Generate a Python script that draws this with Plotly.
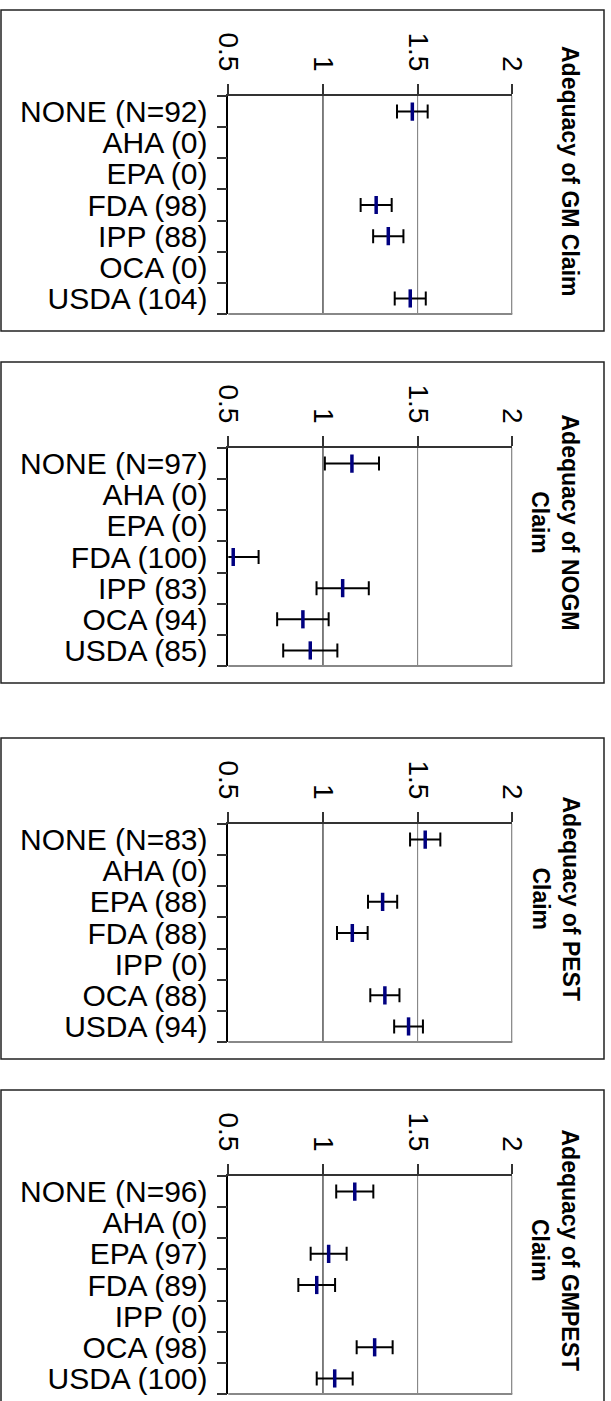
import plotly.graph_objects as go

W, H = 611, 1401

agencies = ["NONE", "AHA", "EPA", "FDA", "IPP", "OCA", "USDA"]
titles = ["Adequacy of GM Claim", "Adequacy of NOGM<br>Claim",
          "Adequacy of PEST<br>Claim", "Adequacy of GMPEST<br>Claim"]

n_gm = [92, 0, 0, 98, 88, 0, 104]
n_nogm = [97, 0, 0, 100, 83, 94, 85]
n_pest = [83, 0, 88, 88, 0, 88, 94]
n_gmpest = [96, 0, 97, 89, 0, 98, 100]

mean_gm = [1.472, None, None, 1.281, 1.345, None, 1.461]
err_gm = [0.081, None, None, 0.082, 0.080, None, 0.082]
mean_nogm = [1.153, None, None, 0.526, 1.104, 0.894, 0.933]
err_nogm = [0.143, None, None, 0.134, 0.138, 0.136, 0.143]
mean_pest = [1.540, None, 1.315, 1.155, None, 1.327, 1.452]
err_pest = [0.080, None, 0.077, 0.081, None, 0.077, 0.076]
mean_gmpest = [1.168, None, 1.030, 0.967, None, 1.273, 1.062]
err_gmpest = [0.098, None, 0.095, 0.097, None, 0.095, 0.095]

x_ticks = [0.5, 1, 1.5, 2]
x_ticktext = ["0.5", "1", "1.5", "2"]

counts = [n_gm, n_nogm, n_pest, n_gmpest]
means = [mean_gm, mean_nogm, mean_pest, mean_gmpest]
errs = [err_gm, err_nogm, err_pest, err_gmpest]

# layout geometry (pixels)
plot_left, plot_right = 228.3, 512.3
plot_tops = [96, 448, 824, 1176]
plot_h = 218
box_left, box_right = 1, 604
FONT = "Liberation Sans, Arial, sans-serif"


def px_x(p):
    return p / W


def px_y(p):
    return 1 - p / H


fig = go.Figure()
shapes = []
annotations = []
layout_axes = {}

for i in range(4):
    k = i + 1
    xa = "x" if k == 1 else f"x{k}"
    ya = "y" if k == 1 else f"y{k}"
    labels = []
    for j, (a, n) in enumerate(zip(agencies, counts[i])):
        labels.append(f"{a} (N={n})" if j == 0 else f"{a} ({n})")

    # error bars (drawn first)
    fig.add_trace(go.Scatter(
        x=means[i], y=labels, mode="markers",
        marker=dict(size=1, color="rgba(0,0,0,0)"),
        error_x=dict(type="data", array=errs[i], symmetric=True,
                     color="black", thickness=2, width=7),
        xaxis=xa, yaxis=ya, showlegend=False, hoverinfo="skip",
    ))
    # mean markers on top
    fig.add_trace(go.Scatter(
        x=means[i], y=labels, mode="markers",
        marker=dict(symbol="line-ns", size=13, color="#000080",
                    line=dict(width=3.5, color="#000080")),
        xaxis=xa, yaxis=ya, showlegend=False, hoverinfo="skip",
    ))

    top = plot_tops[i]
    bottom = top + plot_h
    ydom = [px_y(bottom), px_y(top)]

    layout_axes[f"xaxis{'' if k == 1 else k}"] = dict(
        domain=[px_x(plot_left), px_x(plot_right)], anchor=ya, side="top",
        range=[0.5, 2], tickmode="array", tickvals=x_ticks, ticktext=x_ticktext,
        tickangle=90, ticks="outside", ticklen=10, tickwidth=1.5, tickcolor="#333",
        ticklabelstandoff=3, automargin=False,
        showline=True, linecolor="#333", linewidth=1.5,
        showgrid=False, zeroline=False, fixedrange=True,
        tickfont=dict(family=FONT, size=28, color="black"),
    )
    layout_axes[f"yaxis{'' if k == 1 else k}"] = dict(
        domain=ydom, anchor=xa, type="category",
        categoryorder="array", categoryarray=labels,
        tickmode="array", tickvals=labels, ticktext=labels,
        range=[6.5, -0.5], tickson="boundaries",
        ticks="outside", ticklen=10, tickwidth=1.5, tickcolor="#333",
        ticklabelstandoff=13, automargin=False,
        showline=True, linecolor="black", linewidth=1.5,
        showgrid=False, zeroline=False, fixedrange=True,
        tickfont=dict(family=FONT, size=30, color="black"),
    )

    # gridlines at 1 and 1.5
    shapes.append(dict(type="line", xref=xa, yref=f"{ya} domain", x0=1, x1=1, y0=0, y1=1,
                       line=dict(color="black", width=1), layer="below"))
    shapes.append(dict(type="line", xref=xa, yref=f"{ya} domain", x0=1.5, x1=1.5, y0=0, y1=1,
                       line=dict(color="#777", width=1), layer="below"))
    # right and bottom gray frame
    shapes.append(dict(type="line", xref=xa, yref=f"{ya} domain", x0=2, x1=2, y0=0, y1=1,
                       line=dict(color="#888", width=2.5)))
    shapes.append(dict(type="line", xref=f"{xa} domain", yref=f"{ya} domain", x0=0, x1=1, y0=0, y1=0,
                       line=dict(color="#888", width=2)))
    # outer panel box
    box_top = top - 86
    box_bottom = top + 235
    shapes.append(dict(type="rect", xref="paper", yref="paper",
                       x0=px_x(box_left), x1=px_x(box_right),
                       y0=px_y(box_bottom), y1=px_y(box_top),
                       line=dict(color="#222", width=1.5)))
    # rotated title
    nlines = titles[i].count("<br>") + 1
    tx = 569.5 if nlines == 1 else 555
    annotations.append(dict(
        text=f"<b>{titles[i]}</b>", xref="paper", yref="paper",
        x=px_x(tx), y=px_y((box_top + box_bottom) / 2),
        xanchor="center", yanchor="middle", showarrow=False, textangle=90,
        align="center", font=dict(family=FONT, size=23, color="black"),
    ))

fig.update_layout(
    template="none",
    width=W, height=H, margin=dict(l=0, r=0, t=0, b=0, pad=0, autoexpand=False),
    paper_bgcolor="white", plot_bgcolor="white",
    shapes=shapes, annotations=annotations, **layout_axes,
)

fig.write_html("out.html")
